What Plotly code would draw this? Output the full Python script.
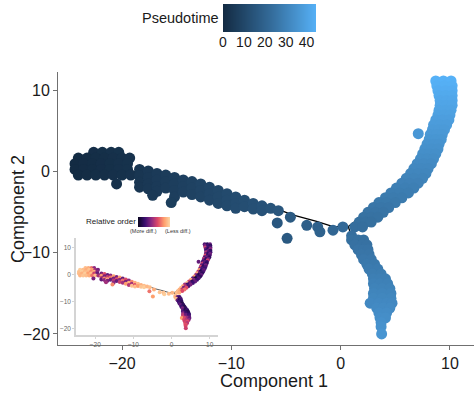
import plotly.graph_objects as go

# ---------------- data ----------------
# left blob of cells (start of pseudotime)
blob_x = [-22.6, -21.8, -21.0, -20.3,
          -24.0, -23.2, -22.4, -21.6, -20.8, -20.0, -19.3,
          -24.3, -23.5, -22.7, -21.9, -21.1, -20.3, -19.5,
          -24.3, -23.5, -22.7, -21.9, -21.1, -20.3, -19.5,
          -24.0, -23.2, -22.4, -21.6, -20.8, -20.0, -19.2,
          -20.5]
blob_y = [2.4, 2.4, 2.4, 2.4,
          1.7, 1.7, 1.7, 1.7, 1.7, 1.7, 1.7,
          1.0, 1.0, 1.0, 1.0, 1.0, 1.0, 1.0,
          0.3, 0.3, 0.3, 0.3, 0.3, 0.3, 0.3,
          -0.4, -0.4, -0.4, -0.4, -0.4, -0.4, -0.4,
          -1.5]
blob_pt = [1.2, 1.6, 2.0, 2.4,
           0.2, 0.6, 1.0, 1.4, 1.8, 2.2, 2.6,
           0.0, 0.4, 0.8, 1.2, 1.6, 2.0, 2.4,
           0.0, 0.4, 0.8, 1.2, 1.6, 2.0, 2.4,
           0.2, 0.6, 1.0, 1.4, 1.8, 2.2, 2.6,
           2.0]
blob_order = [0.9, 0.85, 0.7, 0.4,
              0.95, 0.9, 0.85, 0.92, 0.8, 0.45, 0.35,
              0.92, 0.95, 0.88, 0.9, 0.75, 0.85, 0.4,
              0.9, 0.86, 0.95, 0.8, 0.9, 0.55, 0.3,
              0.88, 0.92, 0.9, 0.85, 0.7, 0.9, 0.45,
              0.35]

# stem towards the branch point
stem_x = [-18.4, -18.4, -18.4, -18.4, -17.6, -17.6, -17.6, -17.6,
          -16.8, -16.8, -16.8, -16.8, -17.2, -16.0, -16.0, -16.0,
          -15.2, -15.2, -15.2, -15.2, -15.5, -14.4, -14.4, -14.4,
          -13.6, -13.6, -13.6, -12.8, -12.8, -12.8, -12.0, -12.0, -12.0,
          -11.2, -11.2, -11.2, -10.4, -10.4, -10.4, -9.6, -9.6, -9.6,
          -8.8, -8.8, -8.0, -8.0, -7.2, -7.2, -6.4, -5.7, -4.6, -5.8,
          -4.9, -3.1, -2.1, -1.9, -0.7, 0.2]
stem_y = [0.3, -0.5, -1.3, -1.9, 0.1, -0.7, -1.5, -2.1,
          -0.2, -1.0, -1.8, -2.4, -2.9, -0.4, -1.2, -2.0,
          -0.7, -1.5, -2.3, -3.1, -3.8, -1.0, -1.8, -2.5,
          -1.2, -2.0, -2.8, -1.5, -2.3, -3.1, -1.9, -2.7, -3.5,
          -2.3, -3.1, -3.9, -2.7, -3.5, -4.2, -3.1, -3.9, -4.5,
          -3.5, -4.3, -3.9, -4.6, -4.2, -4.8, -4.5, -4.8, -5.6, -6.3,
          -8.2, -6.6, -6.8, -7.4, -7.2, -6.8]
stem_pt = [4.0, 4.0, 4.0, 4.0, 4.7, 4.7, 4.7, 4.7,
           5.4, 5.4, 5.4, 5.4, 5.0, 6.1, 6.1, 6.1,
           6.8, 6.8, 6.8, 6.8, 6.6, 7.5, 7.5, 7.5,
           8.2, 8.2, 8.2, 8.9, 8.9, 8.9, 9.6, 9.6, 9.6,
           10.3, 10.3, 10.3, 11.0, 11.0, 11.0, 11.7, 11.7, 11.7,
           12.4, 12.4, 13.1, 13.1, 13.8, 13.8, 14.5, 15.2, 16.5, 15.6,
           16.3, 18.0, 19.2, 19.5, 21.0, 22.0]
stem_order = [0.35, 0.8, 0.5, 0.3, 0.6, 0.35, 0.75, 0.4,
              0.3, 0.55, 0.85, 0.35, 0.45, 0.4, 0.7, 0.3,
              0.8, 0.35, 0.5, 0.4, 0.75, 0.35, 0.6, 0.3,
              0.8, 0.4, 0.55, 0.3, 0.7, 0.45, 0.6, 0.35, 0.8,
              0.4, 0.85, 0.5, 0.75, 0.45, 0.9, 0.85, 0.6, 0.9,
              0.9, 0.8, 0.85, 0.92, 0.9, 0.95, 0.88, 0.9, 0.85, 0.7,
              0.8, 0.92, 0.9, 0.95, 0.9, 0.88]

# upper branch, one row per Component 2 value
upper_row_y = [11.2, 10.6, 10.0, 9.4, 8.8, 8.2, 7.6, 7.0, 6.4, 5.8, 5.2, 4.6, 4.0, 3.4, 2.8,
               2.2, 1.6, 1.0, 0.4, -0.2, -0.8, -1.4, -2.0, -2.6, -3.2, -3.8, -4.4, -5.0,
               -5.6, -6.2, -6.8]
upper_row_x = [[8.7, 9.4, 10.1], [8.8, 9.5, 10.2], [8.9, 9.6, 10.2], [9.0, 9.6, 10.2],
               [9.1, 9.7, 10.2], [9.1, 9.7, 10.2], [9.0, 9.6, 10.1], [8.9, 9.5, 10.0],
               [8.7, 9.3, 9.9], [8.5, 9.1, 9.7], [8.4, 9.0, 9.5], [8.2, 8.8, 9.3],
               [8.1, 8.7, 9.2], [7.9, 8.5, 9.0], [7.7, 8.3, 8.9], [7.5, 8.1, 8.7],
               [7.3, 7.9, 8.5], [7.0, 7.6, 8.3], [6.7, 7.4, 8.0], [6.4, 7.1, 7.8],
               [6.0, 6.7, 7.5], [5.6, 6.3, 7.1], [5.1, 5.9, 6.7], [4.6, 5.4, 6.2],
               [4.1, 4.8, 5.6], [3.5, 4.2, 5.0], [3.0, 3.7, 4.4], [2.5, 3.2, 3.9],
               [2.1, 2.8, 3.4], [1.7, 2.3, 2.8], [1.3, 2.0]]
upper_row_pt = [44.5, 43.8, 43.0, 42.2, 41.5, 40.8, 40.1, 39.4, 38.7, 38.0, 37.3, 36.6,
                35.9, 35.2, 34.5, 33.8, 33.1, 32.4, 31.7, 31.0, 30.3, 29.6, 28.9, 28.2,
                27.5, 26.8, 26.1, 25.4, 24.7, 24.0, 23.5]
upper_row_order = [[0.25, 0.15, 0.3], [0.35, 0.2, 0.15], [0.55, 0.2, 0.25], [0.3, 0.15, 0.4],
                   [0.2, 0.3, 0.15], [0.5, 0.25, 0.2], [0.3, 0.15, 0.35], [0.6, 0.2, 0.25],
                   [0.25, 0.35, 0.15], [0.5, 0.2, 0.3], [0.3, 0.15, 0.55], [0.2, 0.3, 0.2],
                   [0.55, 0.25, 0.15], [0.3, 0.2, 0.35], [0.6, 0.15, 0.25], [0.35, 0.25, 0.2],
                   [0.8, 0.2, 0.3], [0.5, 0.1, 0.25], [0.85, 0.3, 0.15], [0.4, 0.1, 0.3],
                   [0.8, 0.2, 0.15], [0.3, 0.05, 0.25], [0.85, 0.35, 0.2], [0.55, 0.15, 0.3],
                   [0.9, 0.3, 0.2], [0.45, 0.2, 0.35], [0.8, 0.5, 0.25], [0.9, 0.35, 0.6],
                   [0.85, 0.5, 0.7], [0.9, 0.8, 0.6], [0.9, 0.85]]
upper_extra_x = [7.1]
upper_extra_y = [4.7]
upper_extra_pt = [36.5]
upper_extra_order = [0.3]

# lower branch, one row per Component 2 value
lower_row_y = [-7.9, -8.4, -9.0, -9.6, -10.2, -10.8, -11.4, -12.0, -12.6, -13.2, -13.8,
               -14.4, -15.0, -15.6, -16.2, -16.8, -17.4, -18.0, -18.6, -19.1, -20.0]
lower_row_x = [[1.0], [1.0, 1.6, 2.1], [1.3, 2.0, 2.4], [1.6, 2.1, 2.5], [1.9, 2.6],
               [2.1, 2.8], [2.4, 3.1], [2.6, 3.4], [2.9, 3.7], [3.0, 3.6, 4.1],
               [3.0, 3.6, 4.3], [3.1, 3.8, 4.5], [3.0, 3.8, 4.6], [3.0, 3.8, 4.6],
               [2.7, 3.5, 4.2, 4.7], [3.3, 3.9, 4.5], [3.5, 4.2], [3.6, 4.1], [3.7],
               [3.7], [3.75]]
lower_row_pt = [23.5, 24.0, 24.6, 25.2, 25.8, 26.4, 27.0, 27.6, 28.2, 28.8, 29.4, 30.0,
                30.6, 31.2, 31.8, 32.4, 33.0, 33.6, 34.2, 34.7, 35.6]
lower_row_order = [[0.9], [0.85, 0.3, 0.2], [0.9, 0.15, 0.25], [0.3, 0.1, 0.2], [0.2, 0.15],
                   [0.25, 0.1], [0.3, 0.15], [0.2, 0.1], [0.35, 0.15], [0.3, 0.1, 0.2],
                   [0.25, 0.15, 0.1], [0.4, 0.2, 0.15], [0.5, 0.3, 0.2], [0.55, 0.35, 0.25],
                   [0.8, 0.6, 0.45, 0.3], [0.6, 0.5, 0.4], [0.55, 0.6], [0.6, 0.5], [0.62],
                   [0.6], [0.55]]

# principal graph (trajectory tree)
tree_x = [-24.0, -20.0, -17.0, -13.0, -9.0, -5.6, -4.4, -2.2, -0.7, 0.7, None,
          0.7, 1.8, 3.2, 5.5, 7.5, 8.6, 9.4, 9.5, None,
          0.7, 1.0, 2.2, 3.6, 3.9, 3.8]
tree_y = [0.8, 0.5, -0.8, -2.3, -3.8, -4.7, -5.3, -6.1, -6.75, -6.75, None,
          -6.75, -5.6, -4.2, -1.8, 0.5, 4.0, 7.5, 10.5, None,
          -6.75, -8.0, -11.0, -14.5, -17.5, -19.0]

# legends: pseudotime bar (min..max) and relative-order bar (more..less differentiated)
pt_range = [0, 44.5]
pt_ticks = [0, 10, 20, 30, 40]
order_range = [0, 1]
axis_ticks = [-20, -10, 0, 10]

# ---------------- assemble ----------------
cell_x = blob_x + stem_x
cell_y = blob_y + stem_y
cell_pt = blob_pt + stem_pt
cell_order = blob_order + stem_order
for rows_y, rows_x, rows_pt, rows_o in [(upper_row_y, upper_row_x, upper_row_pt, upper_row_order),
                                        (lower_row_y, lower_row_x, lower_row_pt, lower_row_order)]:
    for yv, xs, p, os_ in zip(rows_y, rows_x, rows_pt, rows_o):
        for xv, ov in zip(xs, os_):
            cell_x.append(xv)
            cell_y.append(yv)
            cell_pt.append(p)
            cell_order.append(ov)
cell_x += upper_extra_x
cell_y += upper_extra_y
cell_pt += upper_extra_pt
cell_order += upper_extra_order

W, H = 474, 396


def fx(px):
    return px / W


def fy(py):
    return 1 - py / H


FONT = "Liberation Sans, Arial, sans-serif"
pt_scale = [[0, "#132B43"], [0.5, "#336A98"], [1, "#56B1F7"]]
magma = [[0, "#0c0725"], [0.2, "#3b0f70"], [0.4, "#8c2981"], [0.6, "#de4968"],
         [0.8, "#fe9f6d"], [1, "#fddcaa"]]

fig = go.Figure()
# main panel
fig.add_trace(go.Scatter(x=tree_x, y=tree_y, mode="lines",
                         line=dict(color="black", width=1.3), hoverinfo="skip",
                         showlegend=False))
fig.add_trace(go.Scatter(
    x=cell_x, y=cell_y, mode="markers", showlegend=False,
    marker=dict(size=11, color=cell_pt, colorscale=pt_scale, cmin=pt_range[0],
                cmax=pt_range[1], line=dict(width=0), showscale=False)))

# inset panel
fig.add_trace(go.Scatter(x=tree_x, y=tree_y, mode="lines", xaxis="x2", yaxis="y2",
                         line=dict(color="#333333", width=0.8), hoverinfo="skip",
                         showlegend=False))
fig.add_trace(go.Scatter(
    x=cell_x, y=cell_y, mode="markers", xaxis="x2", yaxis="y2", showlegend=False,
    marker=dict(size=4, color=cell_order, colorscale=magma, cmin=order_range[0],
                cmax=order_range[1], line=dict(width=0), showscale=False)))

# colour legend bars
fig.add_trace(go.Heatmap(z=[pt_range], x=pt_range, y=[0], colorscale=pt_scale,
                         zmin=pt_range[0], zmax=pt_range[1], zsmooth="best",
                         showscale=False, hoverinfo="skip", xaxis="x3", yaxis="y3"))
fig.add_trace(go.Heatmap(z=[order_range], x=order_range, y=[0], colorscale=magma,
                         zmin=order_range[0], zmax=order_range[1], zsmooth="best",
                         showscale=False, hoverinfo="skip", xaxis="x4", yaxis="y4"))

main_axis = dict(showline=True, linecolor="#707070", linewidth=1, ticks="outside",
                 ticklen=4, tickcolor="#707070", tickvals=axis_ticks, showgrid=False,
                 zeroline=False, tickfont=dict(size=16, color="#1a1a1a", family=FONT))
inset_axis = dict(showline=True, linecolor="#d4d4d4", linewidth=1.5, ticks="outside",
                  ticklen=2, tickcolor="#d4d4d4", tickvals=axis_ticks, showgrid=False,
                  zeroline=False, tickfont=dict(size=6.5, color="#666666", family=FONT))
hidden = dict(showline=False, showgrid=False, zeroline=False, showticklabels=False,
              ticks="", fixedrange=True)

fig.update_layout(
    width=W, height=H, margin=dict(l=0, r=0, t=0, b=0, autoexpand=False),
    paper_bgcolor="white", plot_bgcolor="white",
    font=dict(family=FONT, color="#1a1a1a"),
    xaxis=dict(main_axis, range=[-25.86, 12.2], domain=[fx(58), 1], anchor="y"),
    yaxis=dict(main_axis, range=[-21.36, 12.31], domain=[fy(345), fy(72)], anchor="x"),
    xaxis2=dict(inset_axis, range=[-25.07, 12.2], domain=[fx(76), fx(218)], anchor="y2"),
    yaxis2=dict(inset_axis, range=[-22.5, 13.5], domain=[fy(335), fy(238)], anchor="x2"),
    xaxis3=dict(showline=False, showgrid=False, zeroline=False, ticks="",
                tickvals=pt_ticks, range=pt_range, domain=[fx(223), fx(316)], anchor="y3",
                tickfont=dict(size=14, color="#1a1a1a", family=FONT), fixedrange=True),
    yaxis3=dict(hidden, range=[-0.5, 0.5], domain=[fy(32), fy(4)], anchor="x3"),
    xaxis4=dict(hidden, range=order_range, domain=[fx(138), fx(170)], anchor="y4"),
    yaxis4=dict(hidden, range=[-0.5, 0.5], domain=[fy(227), fy(217)], anchor="x4"),
    annotations=[
        dict(text="Component 1", x=fx(273.5), y=fy(381), xref="paper", yref="paper",
             showarrow=False, xanchor="center", yanchor="middle",
             font=dict(size=18, color="#1a1a1a")),
        dict(text="Component 2", x=fx(18), y=fy(209), xref="paper", yref="paper",
             showarrow=False, xanchor="center", yanchor="middle", textangle=-90,
             font=dict(size=18, color="#1a1a1a")),
        dict(text="Pseudotime", x=fx(221), y=fy(18), xref="paper", yref="paper",
             showarrow=False, xanchor="right", yanchor="middle",
             font=dict(size=14.5, color="#1a1a1a")),
        dict(text="Relative order", x=fx(138), y=fy(221), xref="paper", yref="paper",
             showarrow=False, xanchor="right", yanchor="middle",
             font=dict(size=8, color="#1a1a1a")),
        dict(text="(More diff.)", x=fx(143), y=fy(231.5), xref="paper", yref="paper",
             showarrow=False, xanchor="center", yanchor="middle",
             font=dict(size=5.5, color="#333333")),
        dict(text="(Less diff.)", x=fx(178), y=fy(231.5), xref="paper", yref="paper",
             showarrow=False, xanchor="center", yanchor="middle",
             font=dict(size=5.5, color="#333333")),
    ],
)

fig.write_html("out.html")
